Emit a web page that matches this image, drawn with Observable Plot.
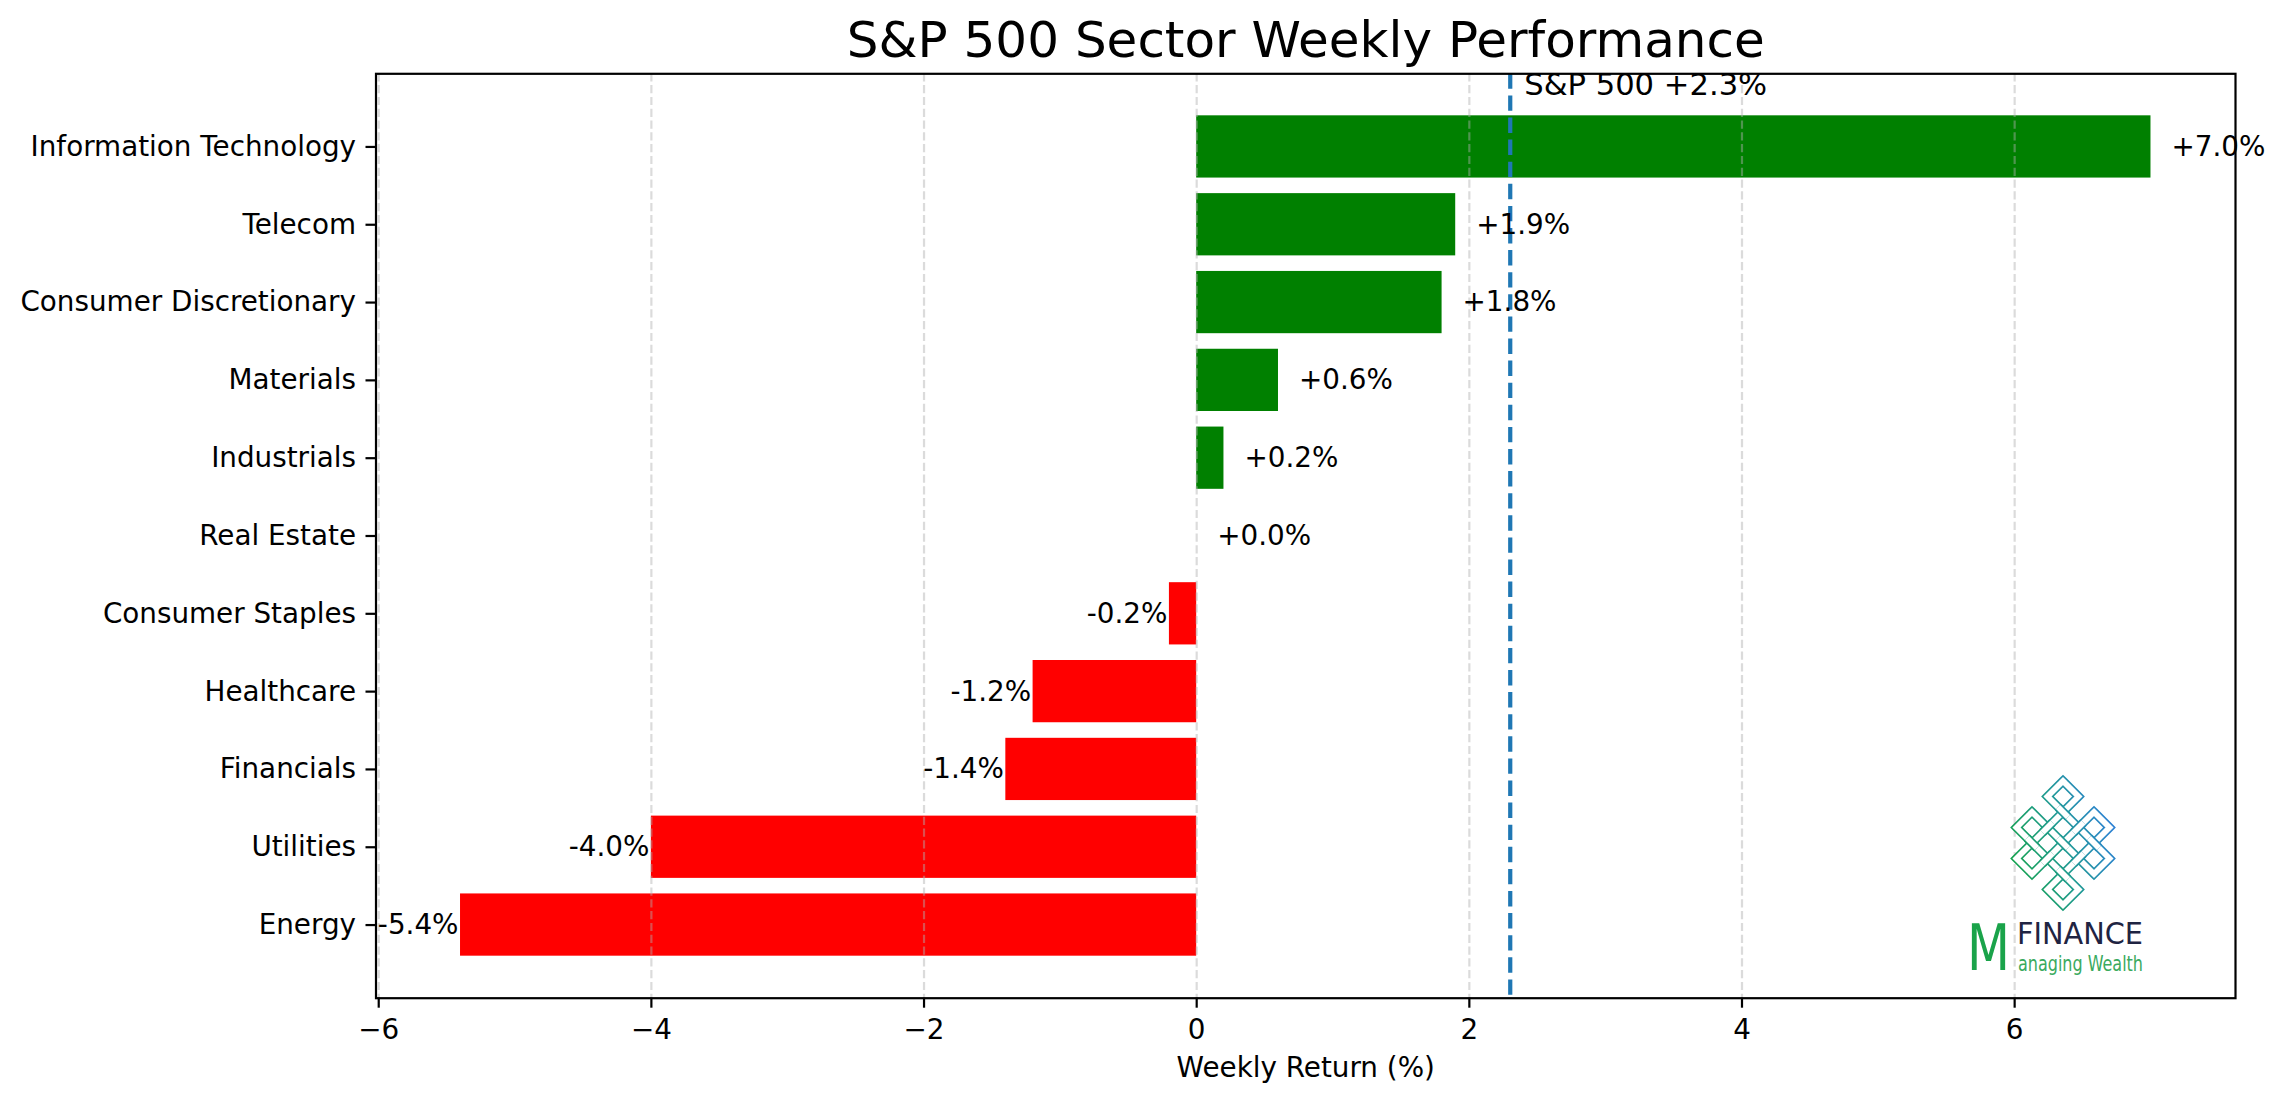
<!DOCTYPE html>
<html>
<head>
<meta charset="utf-8">
<script src="https://cdn.jsdelivr.net/npm/d3@7"></script>
<script src="https://cdn.jsdelivr.net/npm/@observablehq/plot@0.6"></script>
<style>
  html, body { margin: 0; padding: 0; background: white; }
  #chart { width: 2284px; height: 1105px; }
</style>
</head>
<body>
<div id="chart"></div>
<script>
// ---- data ----
const sectors = ["Information Technology", "Telecom", "Consumer Discretionary", "Materials", "Industrials",
  "Real Estate", "Consumer Staples", "Healthcare", "Financials", "Utilities", "Energy"];
const returns = [7.0, 1.9, 1.8, 0.6, 0.2, 0.0, -0.2, -1.2, -1.4, -4.0, -5.4];
const spReturn = 2.3;
const spLabel = "S&P 500 +2.3%";
const xTicks = [-6, -4, -2, 0, 2, 4, 6];
const titleText = "S&P 500 Sector Weekly Performance";
const xLabel = "Weekly Return (%)";

const data = sectors.map((s, i) => ({sector: s, value: returns[i]}));
const fmt = v => (v >= 0 ? "+" : "") + v.toFixed(1) + "%";
const FS = 27.8;

const svg = Plot.plot({
  width: 2284,
  height: 1105,
  marginLeft: 375.5,
  marginRight: 49,
  marginTop: 73.3,
  marginBottom: 107.3,
  x: {domain: [-6.02, 7.62]},
  y: {type: "band", domain: sectors, paddingInner: 0.2, paddingOuter: 0.54, round: false},
  color: {type: "identity"},
  style: {fontFamily: "DejaVu Sans", background: "white", color: "black", overflow: "visible"},
  marks: [
    Plot.barX(data, {y: "sector", x: "value", fill: d => d.value >= 0 ? "green" : "red"}),
    Plot.gridX(xTicks, {stroke: "#b0b0b0", strokeOpacity: 0.45, strokeWidth: 2.2, strokeDasharray: "8.2,3.6"}),
    Plot.ruleX([spReturn], {stroke: "#1f77b4", strokeWidth: 4.2, strokeDasharray: "15.4,6.7"}),
    Plot.text(data.filter(d => d.value >= 0), {y: "sector", x: "value", text: d => fmt(d.value),
      textAnchor: "start", dx: 20.5, fontSize: FS, fill: "black"}),
    Plot.text(data.filter(d => d.value < 0), {y: "sector", x: "value", text: d => fmt(d.value),
      textAnchor: "end", dx: -2, fontSize: FS, fill: "black"}),
    Plot.text([{x: spReturn, label: spLabel}], {x: "x", text: "label", frameAnchor: "top", lineAnchor: "middle",
      dx: 14, dy: 11, textAnchor: "start", fontSize: 30.6, fill: "black"}),
    Plot.axisY({tickSize: 10, tickPadding: 10, fontSize: FS, label: null, strokeWidth: 2.2}),
    Plot.axisX({ticks: xTicks, tickSize: 10, tickPadding: 11, fontSize: FS, label: null, strokeWidth: 2.2}),
    Plot.text([xLabel], {frameAnchor: "bottom", lineAnchor: "middle", dy: 70, fontSize: FS, fill: "black"}),
    Plot.text([titleText], {frameAnchor: "top", lineAnchor: "middle", dy: -33, fontSize: 50, fill: "black"}),
    Plot.frame({stroke: "black", strokeWidth: 2.2})
  ]
});
document.getElementById("chart").appendChild(svg);

// ---- decorative logo (endless knot + wordmark) ----
(function drawLogo() {
  const s = d3.select(svg);
  const defs = s.append("defs");
  const grad = defs.append("linearGradient").attr("id", "knotGrad")
    .attr("gradientUnits", "userSpaceOnUse")
    .attr("x1", 2008).attr("y1", 860).attr("x2", 2118).attr("y2", 825);
  grad.append("stop").attr("offset", 0).attr("stop-color", "#14a24a");
  grad.append("stop").attr("offset", 0.5).attr("stop-color", "#1f9a92");
  grad.append("stop").attr("offset", 1).attr("stop-color", "#2e7fda");

  const cx = 2063, cy = 843, g = 15.5, W = 9, lw = 1.6;
  const P = ([u, v]) => [cx + (u + v) * g, cy + (u - v) * g];
  const segs = [];
  for (const c of [-1, 0, 1]) { segs.push([[c, -2], [c, 2]]); segs.push([[-2, c], [2, c]]); }
  segs.push([[-2, 1], [-2, 2]], [[-2, 2], [-1, 2]], [[0, 2], [1, 2]], [[2, 0], [2, 1]],
            [[2, -2], [2, -1]], [[1, -2], [2, -2]], [[-2, -1], [-2, 0]], [[-1, -2], [0, -2]]);
  const pathOf = list => list.map(([a, b]) => { const p = P(a), q = P(b); return `M${p[0]},${p[1]}L${q[0]},${q[1]}`; }).join("");
  const base = pathOf(segs);
  const k = s.append("g");
  k.append("path").attr("d", base).attr("fill", "none").attr("stroke", "url(#knotGrad)")
    .attr("stroke-width", W).attr("stroke-linecap", "square");
  k.append("path").attr("d", base).attr("fill", "none").attr("stroke", "white")
    .attr("stroke-width", W - 2 * lw).attr("stroke-linecap", "square");
  const d = 0.32;
  for (const i of [-1, 0, 1]) for (const j of [-1, 0, 1]) {
    const seg = (Math.abs(i + j) % 2 === 0) ? [[i - d, j], [i + d, j]] : [[i, j - d], [i, j + d]];
    const pd = pathOf([seg]);
    k.append("path").attr("d", pd).attr("stroke", "url(#knotGrad)").attr("stroke-width", W).attr("stroke-linecap", "butt");
    k.append("path").attr("d", pd).attr("stroke", "white").attr("stroke-width", W - 2 * lw).attr("stroke-linecap", "butt");
  }
  const t = s.append("g").attr("text-anchor", "start");
  t.append("text").attr("x", 1967).attr("y", 970).attr("font-size", 64).attr("fill", "#1aa34a")
    .attr("font-family", "'Liberation Sans Narrow', 'DejaVu Sans Condensed', 'DejaVu Sans', sans-serif")
    .attr("textLength", 43).attr("lengthAdjust", "spacingAndGlyphs").text("M");
  t.append("text").attr("x", 2017).attr("y", 944).attr("font-size", 31).attr("fill", "#1f2442")
    .attr("font-family", "'DejaVu Sans Condensed', 'DejaVu Sans', sans-serif")
    .attr("textLength", 126).attr("lengthAdjust", "spacingAndGlyphs").text("FINANCE");
  t.append("text").attr("x", 2018).attr("y", 971).attr("font-size", 21).attr("fill", "#3aaa5e")
    .attr("font-family", "'DejaVu Sans Condensed', 'DejaVu Sans', sans-serif")
    .attr("textLength", 125).attr("lengthAdjust", "spacingAndGlyphs").text("anaging Wealth");
})();
</script>
</body>
</html>
